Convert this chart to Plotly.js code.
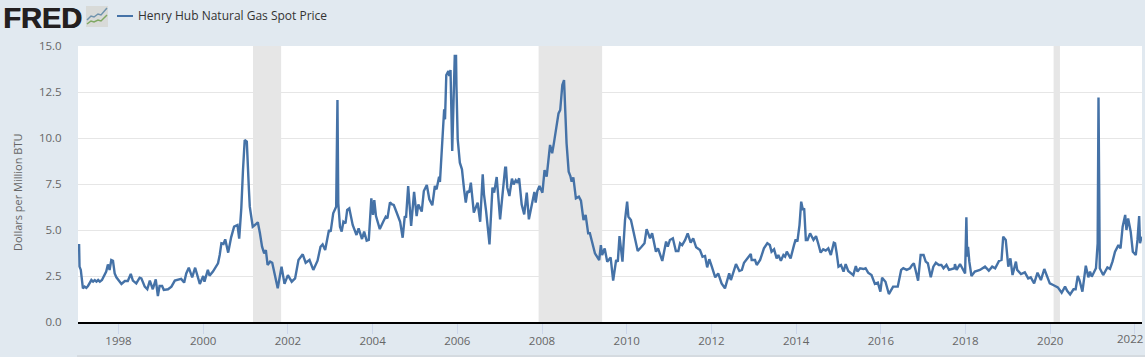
<!DOCTYPE html>
<html>
<head>
<meta charset="utf-8">
<script src="https://cdn.plot.ly/plotly-3.0.1.min.js"></script>
<style>html,body{margin:0;padding:0;background:#e1e9f0}#chart{width:1145px;height:357px}</style>
</head>
<body>
<div id="chart"></div>
<script>
const seriesName = "Henry Hub Natural Gas Spot Price";
const yTitle = "Dollars per Million BTU";
const years = [
1997.04,1997.07,1997.08,1997.11,1997.16,1997.20,1997.24,1997.28,1997.36,1997.40,1997.44,1997.48,1997.52,1997.56,1997.61,1997.66,1997.71,1997.75,1997.79,1997.83,1997.87,1997.91,1997.95,
1998.03,1998.07,1998.15,1998.22,1998.29,1998.34,1998.42,1998.50,1998.54,1998.62,1998.68,1998.74,1998.81,1998.88,1998.93,1998.97,
1999.03,1999.07,1999.17,1999.25,1999.33,1999.40,1999.48,1999.55,1999.60,1999.66,1999.74,1999.81,1999.92,
2000.00,2000.03,2000.11,2000.15,2000.23,2000.35,2000.39,2000.43,2000.48,2000.52,2000.59,2000.66,2000.73,2000.81,2000.85,2000.90,2000.94,2000.98,
2001.03,2001.05,2001.08,2001.10,2001.17,2001.22,2001.29,2001.34,2001.39,2001.44,2001.48,2001.52,2001.58,2001.63,2001.70,2001.76,2001.85,2001.92,
2002.00,2002.09,2002.17,2002.25,2002.35,2002.42,2002.51,2002.60,2002.70,2002.77,2002.82,2002.88,2002.97,
2003.01,2003.07,2003.14,2003.17,2003.19,2003.23,2003.27,2003.31,2003.36,2003.40,2003.45,2003.53,2003.62,2003.67,2003.75,2003.80,2003.86,2003.91,2003.97,
2004.01,2004.04,2004.08,2004.17,2004.25,2004.31,2004.35,2004.41,2004.46,2004.50,2004.57,2004.65,2004.71,2004.76,2004.79,2004.84,2004.91,2004.98,
2005.04,2005.08,2005.16,2005.21,2005.28,2005.34,2005.41,2005.47,2005.51,2005.57,2005.59,2005.65,2005.69,2005.71,2005.74,2005.79,2005.81,2005.84,2005.88,2005.94,2005.97,2005.98,
2006.01,2006.06,2006.11,2006.16,2006.20,2006.24,2006.28,2006.32,2006.39,2006.48,2006.54,2006.60,2006.63,2006.68,2006.76,2006.83,2006.87,2006.93,
2007.01,2007.13,2007.15,2007.18,2007.23,2007.29,2007.33,2007.38,2007.42,2007.46,2007.52,2007.58,2007.64,2007.69,2007.76,2007.82,2007.85,2007.89,2007.94,
2008.01,2008.06,2008.11,2008.19,2008.24,2008.28,2008.39,2008.43,2008.48,2008.52,2008.54,2008.58,2008.63,2008.67,2008.70,2008.74,2008.80,2008.87,2008.92,2008.98,
2009.03,2009.09,2009.13,2009.19,2009.25,2009.35,2009.39,2009.42,2009.48,2009.54,2009.62,2009.68,2009.75,2009.79,2009.83,2009.90,2009.96,
2010.01,2010.04,2010.10,2010.19,2010.26,2010.35,2010.42,2010.47,2010.55,2010.60,2010.69,2010.74,2010.84,2010.93,2010.97,
2011.02,2011.09,2011.16,2011.22,2011.26,2011.31,2011.38,2011.44,2011.51,2011.57,2011.64,2011.73,2011.79,2011.85,2011.90,2011.95,
2012.01,2012.09,2012.16,2012.24,2012.32,2012.42,2012.46,2012.52,2012.58,2012.66,2012.72,2012.77,2012.85,2012.93,2012.95,
2013.03,2013.07,2013.15,2013.24,2013.32,2013.38,2013.42,2013.48,2013.54,2013.58,2013.64,2013.70,2013.74,2013.78,2013.82,2013.87,2013.95,2013.99,
2014.03,2014.08,2014.12,2014.16,2014.19,2014.23,2014.27,2014.33,2014.41,2014.47,2014.52,2014.58,2014.64,2014.70,2014.76,2014.82,2014.89,2014.92,2014.96,
2015.00,2015.06,2015.12,2015.17,2015.23,2015.35,2015.41,2015.45,2015.51,2015.59,2015.64,2015.70,2015.78,2015.86,2015.93,2015.99,
2016.03,2016.11,2016.19,2016.29,2016.40,2016.48,2016.53,2016.61,2016.69,2016.74,2016.78,2016.82,2016.88,2016.94,
2017.01,2017.06,2017.11,2017.18,2017.24,2017.30,2017.37,2017.43,2017.48,2017.55,2017.61,2017.74,2017.75,2017.79,2017.87,2017.99,
2018.02,2018.04,2018.06,2018.09,2018.14,2018.22,2018.34,2018.46,2018.55,2018.63,2018.70,2018.79,2018.85,2018.89,2018.95,
2019.01,2019.06,2019.11,2019.19,2019.22,2019.31,2019.40,2019.48,2019.54,2019.62,2019.70,2019.78,2019.86,2019.99,
2020.07,2020.18,2020.27,2020.35,2020.40,2020.47,2020.55,2020.60,2020.65,2020.69,2020.76,2020.84,2020.90,2020.94,2020.98,
2021.04,2021.08,2021.12,2021.14,2021.17,2021.25,2021.35,2021.41,2021.47,2021.53,2021.61,2021.66,2021.71,2021.77,2021.80,2021.84,2021.90,2021.95,
2022.02,2022.06,2022.10,2022.12,2022.16];
const prices = [
4.18,4.18,3.01,2.83,1.83,1.92,1.85,1.96,2.28,2.19,2.28,2.19,2.28,2.19,2.28,2.55,2.74,3.13,2.83,3.37,3.33,2.64,2.43,
2.19,2.07,2.23,2.23,2.61,2.25,2.10,2.41,2.37,1.92,1.78,2.25,1.78,2.32,1.41,1.96,
1.96,1.74,1.78,1.92,2.25,2.28,2.34,2.14,2.64,2.95,2.43,2.95,2.07,
2.50,2.19,2.83,2.52,2.74,3.19,3.64,4.28,4.24,4.49,3.77,4.60,5.18,5.27,4.53,6.18,8.26,9.89,
9.80,8.44,7.17,6.27,5.18,5.27,5.42,4.82,4.09,3.73,3.91,3.10,3.28,3.22,2.37,1.83,3.01,2.07,
2.55,2.19,2.37,3.37,3.68,3.22,3.37,2.83,3.33,4.09,4.22,3.91,5.00,
4.91,5.91,6.27,12.07,6.45,5.18,4.91,5.45,5.36,6.09,6.18,5.27,4.73,5.09,4.51,4.91,4.42,4.46,6.72,
5.82,6.63,5.76,5.05,5.45,5.72,5.63,6.50,6.39,6.36,5.94,5.45,4.58,5.76,5.67,7.39,5.22,7.07,
5.76,6.39,6.00,7.12,7.45,6.67,6.34,7.39,7.21,7.90,7.61,9.75,11.56,11.01,13.42,13.64,13.37,13.70,9.29,14.46,14.46,12.83,
9.93,8.66,8.30,7.21,6.49,7.12,7.03,7.57,5.94,6.49,5.45,8.03,6.94,6.03,4.22,7.30,7.03,7.88,
5.58,8.39,8.39,7.30,6.85,7.79,7.48,7.70,7.57,7.81,6.39,5.85,7.03,5.58,6.30,7.07,6.49,7.12,7.39,
7.03,8.26,7.90,9.62,9.17,9.71,11.34,11.52,12.88,13.15,12.07,9.71,8.17,7.93,7.63,7.86,6.72,6.81,6.59,5.54,
5.82,4.82,4.82,4.18,3.73,3.37,4.18,3.64,4.00,3.28,3.51,2.25,3.37,3.28,4.67,3.28,5.54,
6.54,5.72,5.54,4.64,3.86,4.09,4.28,5.05,4.55,4.82,3.82,4.00,3.32,4.37,4.09,
4.46,4.55,3.86,3.86,4.28,4.18,4.46,4.82,4.31,4.55,4.06,3.91,3.55,3.59,2.97,3.41,
3.01,2.43,2.64,2.10,1.83,2.64,2.28,2.79,3.15,2.77,2.83,3.22,3.46,3.70,3.37,
3.37,3.10,3.37,4.00,4.28,4.18,3.82,3.95,3.46,3.64,3.33,3.64,3.55,3.82,3.64,3.46,4.18,4.49,
4.37,5.27,6.54,6.09,6.18,4.46,4.46,4.82,4.46,4.67,4.28,3.77,3.95,3.88,4.00,3.64,4.31,4.28,3.70,
3.01,3.10,2.74,3.15,2.77,2.55,3.04,2.74,2.92,2.88,2.92,2.68,2.55,2.07,2.14,1.65,
2.41,2.19,1.52,1.92,1.92,2.83,2.92,2.83,2.92,3.10,3.19,2.83,2.25,3.64,
3.64,3.28,3.19,2.43,3.01,3.22,3.10,3.10,2.92,3.10,2.83,2.92,3.15,2.83,3.15,2.64,
5.69,3.55,4.09,3.28,2.50,2.74,2.83,3.01,2.79,3.01,2.92,3.32,3.37,4.64,4.46,
3.01,3.46,2.55,3.28,2.83,2.61,2.70,2.37,2.43,2.10,2.68,2.28,2.88,2.10,
2.01,1.88,1.59,1.92,1.70,1.50,1.78,1.78,2.50,2.28,1.65,3.06,2.43,2.74,2.46,
2.74,2.92,4.27,12.2,2.92,2.55,2.97,2.88,3.28,3.82,4.18,4.00,5.18,5.82,5.00,5.63,4.91,3.82,
3.64,4.46,5.76,4.28,4.64];
const yTicks = [0,2.5,5,7.5,10,12.5,15];
const xTicks = [1998,2000,2002,2004,2006,2008,2010,2012,2014,2016,2018,2020,2022];
const recessionStart = [2001.176,2007.92,2020.08];
const recessionEnd = [2001.84,2009.42,2020.23];

const L=78,R=1142,T=46,B=322;
const px=x=>(x-L)/(R-L), py=y=>(B-y)/(B-T);
const pathOf=pts=>'M'+pts.map(p=>px(p[0]).toFixed(5)+','+py(p[1]).toFixed(5)).join('L');
const bg='#e1e9f0', font='"Open Sans", sans-serif';
const shapes=recessionStart.map((s,i)=>({type:'rect',layer:'below',xref:'x',yref:'paper',x0:s,x1:recessionEnd[i],y0:0,y1:1,fillcolor:'#e6e6e6',line:{width:0}}));
shapes.push({type:'line',xref:'paper',yref:'paper',x0:px(117),x1:px(133),y0:py(16),y1:py(16),line:{color:'#4572a7',width:2}});
shapes.push({type:'line',xref:'paper',yref:'paper',x0:px(77),x1:px(1145),y0:py(356),y1:py(356),line:{color:'#c8ccd0',width:1}});
shapes.push({type:'rect',xref:'paper',yref:'paper',x0:px(86),x1:px(108),y0:py(27),y1:py(6),fillcolor:'#d8dad8',line:{width:0}});
shapes.push({type:'path',xref:'paper',yref:'paper',path:pathOf([[87,20],[91,16],[94,17],[98,14],[101,15],[107,8]]),line:{color:'#6f93ad',width:1.5}});
shapes.push({type:'path',xref:'paper',yref:'paper',path:pathOf([[87,24],[91,21],[94,22],[98,20],[101,21],[107,15]]),line:{color:'#7fa863',width:1.5}});

Plotly.newPlot('chart',[{
  type:'scatter',mode:'lines',name:seriesName,x:years,y:prices,
  line:{color:'#4572a7',width:2.4,shape:'linear'},hoverinfo:'x+y'
}],{
  width:1145,height:357,showlegend:false,
  paper_bgcolor:bg,plot_bgcolor:'#ffffff',
  margin:{l:L,r:1145-R,t:T,b:357-B,pad:0},
  font:{family:font,color:'#555'},
  xaxis:{range:[1997.044,2022.167],tickmode:'array',tickvals:xTicks,ticktext:xTicks.map(v=>v===2022?'':String(v)),showgrid:false,zeroline:false,
    showline:true,linecolor:'#000',linewidth:2,ticks:'outside',ticklen:10,tickwidth:1,tickcolor:'#ccd6eb',ticklabelstandoff:-3,
    tickfont:{family:font,size:11.5,color:'#666'}},
  yaxis:{range:[0,15],tickmode:'array',tickvals:yTicks,ticktext:yTicks.map(v=>v.toFixed(1)),gridcolor:'#e6e6e6',gridwidth:1,zeroline:false,
    showline:false,ticks:'outside',ticklen:13,tickcolor:'rgba(0,0,0,0)',tickfont:{family:font,size:11.5,color:'#666'}},
  shapes:shapes,
  annotations:[
    {xref:'paper',yref:'paper',x:px(136),y:py(16),xanchor:'left',yanchor:'middle',showarrow:false,text:seriesName,font:{family:font,size:12,color:'#333'}},
    {xref:'paper',yref:'paper',x:px(1),y:py(18),xanchor:'left',yanchor:'middle',showarrow:false,text:'<b>FRED</b>',font:{family:'"Liberation Sans",sans-serif',size:29,color:'#231f20',shadow:'0.7px 0 0 #231f20'}},
    {xref:'paper',yref:'paper',x:px(17),y:py(192),xanchor:'center',yanchor:'middle',showarrow:false,textangle:-90,text:yTitle,font:{family:font,size:11,color:'#666'}},
    {xref:'paper',yref:'paper',x:px(1130),y:py(338),xanchor:'center',yanchor:'middle',showarrow:false,text:'2022',font:{family:font,size:11.5,color:'#666'}}
  ]
},{staticPlot:true});
</script>
</body>
</html>
